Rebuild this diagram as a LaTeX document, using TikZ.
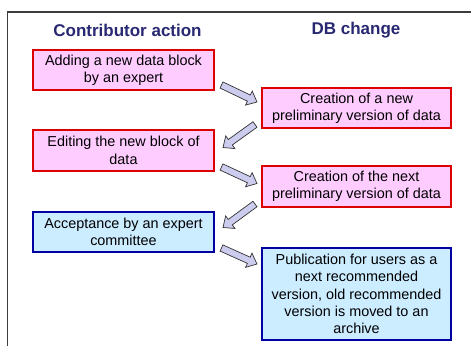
\documentclass[tikz,border=0pt]{standalone}
\usepackage{fontspec}
\setmainfont{Liberation Sans}
\usetikzlibrary{calc}
\definecolor{pinkfill}{RGB}{255,204,255}
\definecolor{redline}{RGB}{220,0,0}
\definecolor{bluefill}{RGB}{204,236,255}
\definecolor{blueline}{RGB}{0,0,160}
\definecolor{arrowfill}{RGB}{204,204,238}
\definecolor{headcol}{RGB}{40,40,115}
\definecolor{framecol}{RGB}{60,60,60}
\tikzset{
  box/.style={draw, line width=1.4pt, align=center, inner sep=0pt,
    font=\fontsize{14.4}{17.3}\selectfont},
  pinkbox/.style={box, draw=redline, fill=pinkfill},
  bluebox/.style={box, draw=blueline, fill=bluefill},
  header/.style={font=\fontsize{17}{20}\selectfont\bfseries, text=headcol},
  blockarrow/.style={draw=black!80, line width=0.7pt, fill=arrowfill, line join=miter}
}
\newcommand\blockarr[2]{%
  \path[blockarrow] let \p1=(#1), \p2=(#2),
    \n1={atan2(\y2-\y1,\x2-\x1)}, \n2={veclen(\x2-\x1,\y2-\y1)-9pt} in
    ($(\p1)+(\n1+90:3.4pt)$) -- ($(\p1)+(\n1:\n2)+(\n1+90:3.4pt)$) --
    ($(\p1)+(\n1:\n2)+(\n1+90:7.8pt)$) -- (\p2) --
    ($(\p1)+(\n1:\n2)+(\n1-90:7.8pt)$) -- ($(\p1)+(\n1:\n2)+(\n1-90:3.4pt)$) --
    ($(\p1)+(\n1-90:3.4pt)$) -- cycle;}
\begin{document}
\begin{tikzpicture}[x=1pt,y=1pt]
\useasboundingbox (0,0) rectangle (471,-347);
\draw[framecol, line width=1.5pt] (471,-12) -- (7.5,-12) -- (7.5,-346);
\node[header] (h1) at (127.5,-30) {Contributor action};
\node[header] (h2) at (356,-30) {DB change};
\node[pinkbox, minimum width=181pt, minimum height=40pt] (b1) at (123.5,-70)
  {Adding a new data block\\by an expert};
\node[pinkbox, minimum width=189pt, minimum height=40pt] (b2) at (356.5,-108)
  {Creation of a new\\preliminary version of data};
\node[pinkbox, minimum width=181pt, minimum height=41pt] (b3) at (123.5,-150.5)
  {Editing the new block of\\data};
\node[pinkbox, minimum width=189pt, minimum height=41pt] (b4) at (356.5,-186.5)
  {Creation of the next\\preliminary version of data};
\node[bluebox, minimum width=181pt, minimum height=40pt] (b5) at (123.5,-232)
  {Acceptance by an expert\\committee};
\node[bluebox, minimum width=189pt, minimum height=92pt] (b6) at (356.5,-294)
  {Publication for users as a\\next recommended\\version, old recommended\\version is moved to an\\archive};
\coordinate (a1s) at (221.5,-85);   \coordinate (a1e) at (257,-102);
\coordinate (a2s) at (255,-124.5);  \coordinate (a2e) at (223,-147.5);
\coordinate (a3s) at (221.5,-167);  \coordinate (a3e) at (257,-183.5);
\coordinate (a4s) at (255,-204);    \coordinate (a4e) at (223,-227.5);
\coordinate (a5s) at (221.5,-248);  \coordinate (a5e) at (257,-264);
\blockarr{a1s}{a1e}
\blockarr{a2s}{a2e}
\blockarr{a3s}{a3e}
\blockarr{a4s}{a4e}
\blockarr{a5s}{a5e}
\end{tikzpicture}
\end{document}
